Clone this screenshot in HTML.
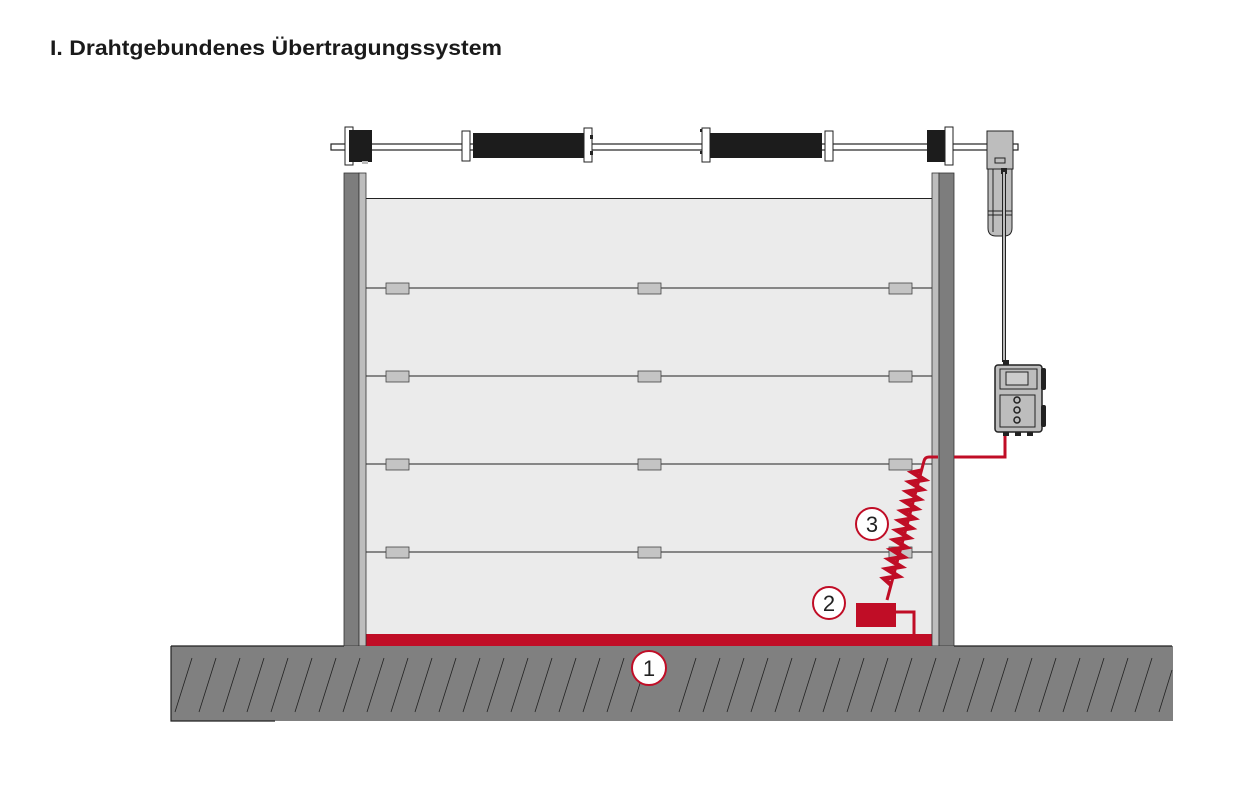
<!DOCTYPE html>
<html><head><meta charset="utf-8"><style>
html,body{margin:0;padding:0;background:#fff;width:1259px;height:803px;overflow:hidden}
svg{display:block}
</style></head><body>
<svg width="1259" height="803" viewBox="0 0 1259 803" xmlns="http://www.w3.org/2000/svg">
<text x="50" y="55" font-family="Liberation Sans, sans-serif" font-weight="bold" font-size="21" fill="#1a1a1a" textLength="452" lengthAdjust="spacingAndGlyphs">I. Drahtgebundenes Übertragungssystem</text>

<!-- shaft -->
<rect x="331" y="144" width="687" height="6" fill="#fff" stroke="#222" stroke-width="1.2"/>
<rect x="345" y="127" width="8" height="38" fill="#fff" stroke="#222"/>
<rect x="349" y="130" width="23" height="32" fill="#1c1c1c"/>
<rect x="362" y="161" width="6" height="3" fill="#bbb"/>
<rect x="462" y="131" width="8" height="30" fill="#fff" stroke="#222"/>
<rect x="473" y="133" width="112" height="25" fill="#1c1c1c"/>
<rect x="584" y="128" width="8" height="34" fill="#fff" stroke="#222"/>
<rect x="590" y="135" width="3" height="4" fill="#222"/><rect x="590" y="151" width="3" height="4" fill="#222"/>
<rect x="700" y="129" width="6" height="3" fill="#222"/><rect x="700" y="151" width="6" height="3" fill="#222"/>
<rect x="702" y="128" width="8" height="34" fill="#fff" stroke="#222"/>
<rect x="710" y="133" width="112" height="25" fill="#1c1c1c"/>
<rect x="825" y="131" width="8" height="30" fill="#fff" stroke="#222"/>
<rect x="927" y="130" width="20" height="32" fill="#1c1c1c"/>
<rect x="945" y="127" width="8" height="38" fill="#fff" stroke="#222"/>
<!-- motor -->
<rect x="987" y="131" width="26" height="38" fill="#bdbdbd" stroke="#222"/>
<rect x="995" y="158" width="10" height="5" fill="none" stroke="#222"/>
<path d="M988 169 H1012 V228 Q1012 236 1004 236 H996 Q988 236 988 228 Z" fill="#bdbdbd" stroke="#222"/>
<line x1="993" y1="169" x2="993" y2="232" stroke="#222"/>
<line x1="988" y1="211" x2="1012" y2="211" stroke="#222"/>
<line x1="988" y1="215" x2="1012" y2="215" stroke="#222"/>
<rect x="1001" y="168" width="6" height="6" fill="#222"/>
<line x1="1004" y1="172" x2="1004" y2="362" stroke="#222" stroke-width="4"/>
<line x1="1004" y1="172" x2="1004" y2="362" stroke="#bbb" stroke-width="2"/>
<!-- control box -->
<rect x="1003" y="360" width="6" height="6" fill="#222"/>
<rect x="995" y="365" width="47" height="67" rx="3" fill="#bdbdbd" stroke="#222" stroke-width="1.5"/>
<rect x="1000" y="369" width="37" height="20" fill="none" stroke="#222"/>
<rect x="1006" y="372" width="22" height="13" fill="#ccc" stroke="#222"/>
<rect x="1000" y="395" width="35" height="32" fill="none" stroke="#222"/>
<circle cx="1017" cy="400" r="3" fill="none" stroke="#222" stroke-width="1.5"/>
<circle cx="1017" cy="410" r="3" fill="none" stroke="#222" stroke-width="1.5"/>
<circle cx="1017" cy="420" r="3" fill="none" stroke="#222" stroke-width="1.5"/>
<rect x="1041" y="368" width="5" height="22" rx="2" fill="#222"/>
<rect x="1041" y="405" width="5" height="22" rx="2" fill="#222"/>
<rect x="1003" y="432" width="6" height="4" fill="#222"/><rect x="1015" y="432" width="6" height="4" fill="#222"/><rect x="1027" y="432" width="6" height="4" fill="#222"/>

<!-- door panel -->
<rect x="366" y="198" width="566" height="437" fill="#ebebeb"/>
<line x1="366" y1="198.5" x2="932" y2="198.5" stroke="#222"/>
<g stroke="#222" stroke-width="1">
<line x1="366" y1="288" x2="932" y2="288"/><line x1="366" y1="376" x2="932" y2="376"/>
<line x1="366" y1="464" x2="932" y2="464"/><line x1="366" y1="552" x2="932" y2="552"/>
</g>
<g fill="#c4c4c4" stroke="#444" stroke-width="0.8">
<rect x="386" y="283" width="23" height="11"/><rect x="638" y="283" width="23" height="11"/><rect x="889" y="283" width="23" height="11"/>
<rect x="386" y="371" width="23" height="11"/><rect x="638" y="371" width="23" height="11"/><rect x="889" y="371" width="23" height="11"/>
<rect x="386" y="459" width="23" height="11"/><rect x="638" y="459" width="23" height="11"/><rect x="889" y="459" width="23" height="11"/>
<rect x="386" y="547" width="23" height="11"/><rect x="638" y="547" width="23" height="11"/><rect x="889" y="547" width="23" height="11"/>
</g>
<rect x="366" y="634" width="566" height="12" fill="#c00d26"/>
<!-- posts -->
<rect x="344" y="173" width="15" height="473" fill="#7d7d7d" stroke="#333" stroke-width="0.8"/>
<rect x="359" y="173" width="7" height="473" fill="#bdbdbd" stroke="#333" stroke-width="0.8"/>
<rect x="932" y="173" width="7" height="473" fill="#bdbdbd" stroke="#333" stroke-width="0.8"/>
<rect x="939" y="173" width="15" height="473" fill="#7d7d7d" stroke="#333" stroke-width="0.8"/>

<!-- red cabling -->
<g fill="none" stroke="#c00d26" stroke-width="3">
<path d="M954 457 H1005 V436"/>
<path d="M938 457 H929 Q925 457 924 461 L887 600"/>
<path d="M895 612 H914 V634"/>
</g>
<g transform="translate(924,461) rotate(15)" fill="none" stroke="#c00d26" stroke-width="4.5" stroke-linejoin="miter">
<path d="M0 10 L-8 14 L5 18 L-8 24 L5 28 L-8 34 L5 38 L-8 44 L5 48 L-8 54 L5 58 L-8 64 L5 68 L-8 74 L5 78 L-8 84 L5 88 L-8 94 L5 98 L-8 104 L5 108 L-8 114 L5 118 L-8 124 L0 128"/>
</g>
<rect x="856" y="603" width="40" height="24" fill="#c00d26"/>

<!-- floor -->
<rect x="171" y="646" width="1002" height="75" fill="#808080"/>
<path d="M171 646 H344 M954 646 H1172 M171 646 V721 H275" fill="none" stroke="#222" stroke-width="1.2"/>
<g stroke="#222" stroke-width="0.8">
<path d="M175 712 L192 658 M199 712 L216 658 M223 712 L240 658 M247 712 L264 658 M271 712 L288 658 M295 712 L312 658 M319 712 L336 658 M343 712 L360 658 M367 712 L384 658 M391 712 L408 658 M415 712 L432 658 M439 712 L456 658 M463 712 L480 658 M487 712 L504 658 M511 712 L528 658 M535 712 L552 658 M559 712 L576 658 M583 712 L600 658 M607 712 L624 658 M631 712 L648 658 M679 712 L696 658 M703 712 L720 658 M727 712 L744 658 M751 712 L768 658 M775 712 L792 658 M799 712 L816 658 M823 712 L840 658 M847 712 L864 658 M871 712 L888 658 M895 712 L912 658 M919 712 L936 658 M943 712 L960 658 M967 712 L984 658 M991 712 L1008 658 M1015 712 L1032 658 M1039 712 L1056 658 M1063 712 L1080 658 M1087 712 L1104 658 M1111 712 L1128 658 M1135 712 L1152 658 M1159 712 L1172 670"/>
</g>

<g font-family="Liberation Sans, sans-serif" font-size="22" fill="#222" text-anchor="middle">
<circle cx="649" cy="668" r="17" fill="#fff" stroke="#c00d26" stroke-width="2"/>
<text x="649" y="676">1</text>
<circle cx="829" cy="603" r="16" fill="#fff" stroke="#c00d26" stroke-width="2"/>
<text x="829" y="611">2</text>
<circle cx="872" cy="524" r="16" fill="#fff" stroke="#c00d26" stroke-width="2"/>
<text x="872" y="532">3</text>
</g>
</svg>
</body></html>
